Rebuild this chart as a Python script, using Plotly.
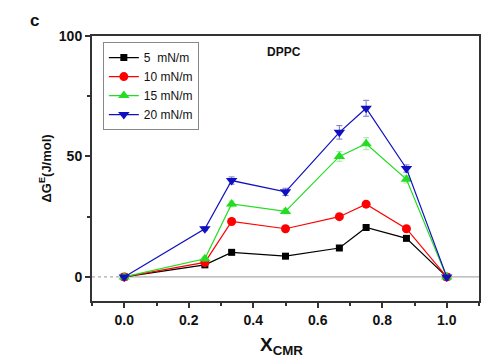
import plotly.graph_objects as go

x_cmr = [0.0, 0.25, 0.333, 0.5, 0.667, 0.75, 0.875, 1.0]
names = ["5  mN/m", "10 mN/m", "15 mN/m", "20 mN/m"]
g5 = [0, 5, 10.2, 8.6, 12, 20.5, 16, 0]
g10 = [0, 6, 23, 20, 25, 30.2, 20, 0]
g15 = [0, 7.5, 30.3, 27.2, 50, 55.3, 40.5, 0]
g20 = [0, 20, 40, 35.3, 60, 70, 45, 0]
err15 = [0, 0.8, 1.2, 1.0, 2.0, 2.5, 1.5, 0]
err20 = [0, 0.8, 1.5, 1.5, 2.8, 3.3, 1.5, 0]
series = [g5, g10, g15, g20]
errors = [None, None, err15, err20]
colors = ["#000000", "#ff0000", "#22dd22", "#1010c0"]
err_colors = ["#000000", "#ff0000", "#99ee99", "#7777cc"]
symbols = ["square", "circle", "triangle-up", "triangle-down"]
sizes = [7, 9, 10, 10]

fig = go.Figure()
for name, y, e, c, ec, s, sz in zip(names, series, errors, colors, err_colors, symbols, sizes):
    kw = {}
    if e is not None:
        kw["error_y"] = dict(type="data", array=e, visible=True, color=ec, thickness=1, width=3)
    fig.add_trace(go.Scatter(
        x=x_cmr, y=y, name=name, mode="lines+markers",
        line=dict(color=c, width=1.2),
        marker=dict(symbol=s, size=sz, color=c),
        **kw))

# zero reference line
fig.add_shape(type="line", xref="x", yref="y", x0=-0.1, x1=0.0, y0=0, y1=0,
              line=dict(color="#999999", width=1, dash="dot"), layer="below")
fig.add_shape(type="line", xref="x", yref="y", x0=0.0, x1=1.1, y0=0, y1=0,
              line=dict(color="#999999", width=1), layer="below")

axis_font = dict(family="Liberation Sans, Arial, sans-serif", size=14, color="#111111")
fig.update_xaxes(range=[-0.1, 1.1], tickvals=[0, 0.2, 0.4, 0.6, 0.8, 1.0],
                 ticktext=["<b>0.0</b>", "<b>0.2</b>", "<b>0.4</b>", "<b>0.6</b>", "<b>0.8</b>", "<b>1.0</b>"],
                 ticks="outside", ticklen=5, tickwidth=1.5, tickcolor="#333",
                 minor=dict(tickvals=[-0.1, 0.1, 0.3, 0.5, 0.7, 0.9, 1.1], ticks="outside", ticklen=3, tickcolor="#333"),
                 showline=True, linecolor="#333333", linewidth=2, mirror=True,
                 showgrid=False, zeroline=False, tickfont=axis_font)
fig.update_yaxes(range=[-10, 100], tickvals=[0, 50, 100],
                 ticktext=["<b>0</b>", "<b>50</b>", "<b>100</b>"],
                 ticks="outside", ticklen=5, tickwidth=1.5, tickcolor="#333",
                 minor=dict(tickvals=[25, 75], ticks="outside", ticklen=3, tickcolor="#333"),
                 showline=True, linecolor="#333333", linewidth=2, mirror=True,
                 showgrid=False, zeroline=False, tickfont=axis_font)

# page body has an 8px margin: figure starts at (8, 8)
W, H = 491, 356
L, T, R, B = 84, 28, 20, 63
pw, ph = W - L - R, H - T - B

fig.update_layout(
    width=W, height=H,
    margin=dict(l=L, r=R, t=T, b=B),
    plot_bgcolor="white", paper_bgcolor="white",
    font=dict(family="Liberation Sans, Arial, sans-serif", color="#111111"),
    showlegend=True,
    legend=dict(x=0.028, y=0.977, xanchor="left", yanchor="top",
                bgcolor="white", bordercolor="#888888", borderwidth=1,
                font=dict(size=12), tracegroupgap=0, itemwidth=30),
    annotations=[
        dict(text="<b>c</b>", x=(27 - L) / pw, y=1 + (T - 12) / ph, xref="paper", yref="paper",
             showarrow=False, font=dict(size=17), xanchor="center", yanchor="middle"),
        dict(text="<b>DPPC</b>", x=(257 - L) / pw, y=1 - (44 - T) / ph, xref="paper", yref="paper",
             showarrow=False, font=dict(size=12), xanchor="left", yanchor="middle"),
        dict(text="<b>ΔG<sup>E</sup>(J/mol)</b>", x=(37 - L) / pw, y=0.5, xref="paper", yref="paper",
             showarrow=False, textangle=-90, font=dict(size=13), xanchor="center", yanchor="middle"),
        dict(text="<b>X<sub>CMR</sub></b>", x=0.49, y=-31 / ph, xref="paper", yref="paper",
             showarrow=False, font=dict(size=19), xanchor="center", yanchor="top"),
    ],
)
fig.write_html("out.html")
